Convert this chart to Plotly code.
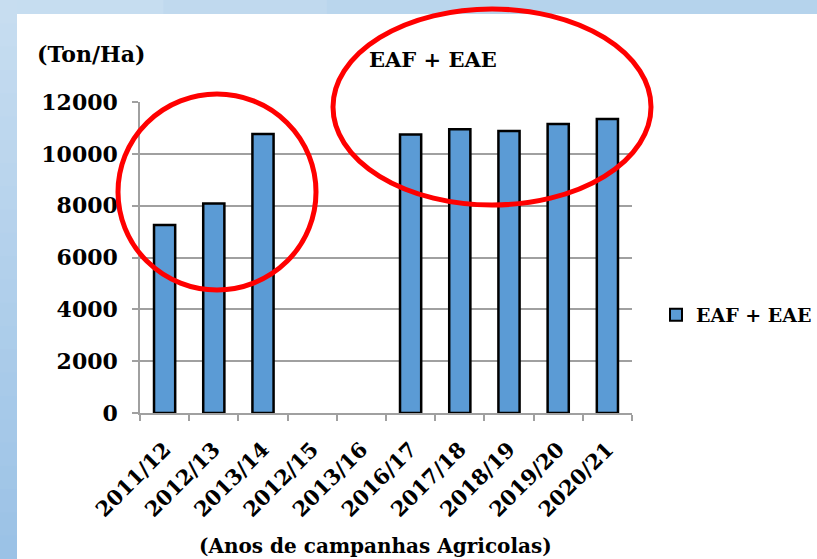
import plotly.graph_objects as go

# Production per campaign year (Ton/Ha); two campaigns have no record
campanhas = ["2011/12", "2012/13", "2013/14", "2012/15", "2013/16",
             "2016/17", "2017/18", "2018/19", "2019/20", "2020/21"]
eaf_eae = [7250, 8080, 10770, None, None,
           10750, 10950, 10880, 11150, 11340]

serie_nome = "EAF + EAE"
y_ticks = [0, 2000, 4000, 6000, 8000, 10000, 12000]
y_tick_text = ["0", "2000", "4000", "6000", "8000", "10000", "12000"]

W, H = 817, 559
# plot area in pixels
L, R, T, B = 140, 632, 102, 413

FONT = "DejaVu Serif"


def px_x(x):
    return (x - L) / (R - L)


def px_y(y):
    return (B - y) / (B - T)


fig = go.Figure()
fig.add_trace(go.Bar(
    x=campanhas, y=eaf_eae, name=serie_nome,
    marker=dict(color="#5b9bd5", line=dict(color="#000000", width=2.5)),
    width=0.43,
))

shapes = []
# white slide panel over a light-blue backdrop
shapes.append(dict(type="rect", xref="paper", yref="paper",
                   x0=px_x(17), x1=px_x(W + 30), y0=px_y(H + 30), y1=px_y(14),
                   fillcolor="#ffffff", line=dict(width=0), layer="below"))
# top strip: slightly lighter towards the left
top_cols = ["#c6ddf0", "#c0d9ee", "#bad6ed", "#b5d3ec"]
n_top = len(top_cols)
for i, c in enumerate(top_cols):
    x0 = i * W / (n_top + 1)
    x1 = (i + 1) * W / (n_top + 1) + 1
    shapes.append(dict(type="rect", xref="paper", yref="paper",
                       x0=px_x(x0), x1=px_x(x1), y0=px_y(14), y1=px_y(-2),
                       fillcolor=c, line=dict(width=0), layer="below"))
# left strip: vertical gradient, darker towards the bottom
n_left = 24
c_top = (0xc7, 0xdd, 0xf0)
c_bot = (0x9b, 0xc2, 0xe6)
for i in range(n_left):
    t = i / (n_left - 1)
    col = tuple(round(a + (b - a) * t) for a, b in zip(c_top, c_bot))
    y0 = i * H / n_left
    y1 = (i + 1) * H / n_left + 1
    shapes.append(dict(type="rect", xref="paper", yref="paper",
                       x0=px_x(-2), x1=px_x(17), y0=px_y(y1), y1=px_y(y0),
                       fillcolor="rgb(%d,%d,%d)" % col, line=dict(width=0),
                       layer="below"))

# red highlight ellipses
shapes.append(dict(type="circle", xref="paper", yref="paper",
                   x0=px_x(118), x1=px_x(316), y0=px_y(290), y1=px_y(94),
                   line=dict(color="#ff0000", width=5), layer="above"))
shapes.append(dict(type="circle", xref="paper", yref="paper",
                   x0=px_x(333), x1=px_x(651), y0=px_y(205), y1=px_y(9),
                   line=dict(color="#ff0000", width=5), layer="above"))


def label(text, x, y, size):
    return dict(text="<b>%s</b>" % text, xref="paper", yref="paper",
                x=px_x(x), y=px_y(y), xanchor="center", yanchor="middle",
                showarrow=False,
                font=dict(family=FONT, size=size, color="#000"))


annotations = [
    label("EAF + EAE", 433, 59, 21),
    label("(Ton/Ha)", 91, 54, 22),
    label("(Anos de campanhas Agricolas)", 375, 546, 20),
]

fig.update_layout(
    width=W, height=H,
    margin=dict(l=L, r=W - R, t=T, b=H - B, pad=0, autoexpand=False),
    paper_bgcolor="#b5d3ec", plot_bgcolor="rgba(0,0,0,0)",
    bargap=0.57,
    shapes=shapes, annotations=annotations,
    showlegend=True,
    legend=dict(x=px_x(656), y=px_y(315), xanchor="left", yanchor="middle",
                font=dict(family=FONT, size=19, color="#000", weight="bold"),
                bgcolor="rgba(0,0,0,0)", itemsizing="constant"),
    font=dict(family=FONT, color="#000"),
)

fig.update_xaxes(
    type="category", categoryorder="array", categoryarray=campanhas,
    showline=True, linecolor="#a0a0a0", linewidth=1.5,
    ticks="outside", tickson="boundaries", ticklen=6, tickcolor="#a0a0a0",
    tickwidth=1.5, tickangle=-45, ticklabelstandoff=14,
    tickfont=dict(family=FONT, size=21, color="#000", weight="bold"),
    showgrid=False,
)
fig.update_yaxes(
    range=[0, 12000], tickvals=y_ticks, ticktext=y_tick_text,
    showline=True, linecolor="#a0a0a0", linewidth=1.5,
    ticks="outside", ticklen=6, tickcolor="#a0a0a0", tickwidth=1.5,
    showgrid=True, gridcolor="#a0a0a0", gridwidth=1.5,
    zeroline=False, ticklabelstandoff=10,
    tickfont=dict(family=FONT, size=22, color="#000", weight="bold"),
)

fig.write_html("out.html")
